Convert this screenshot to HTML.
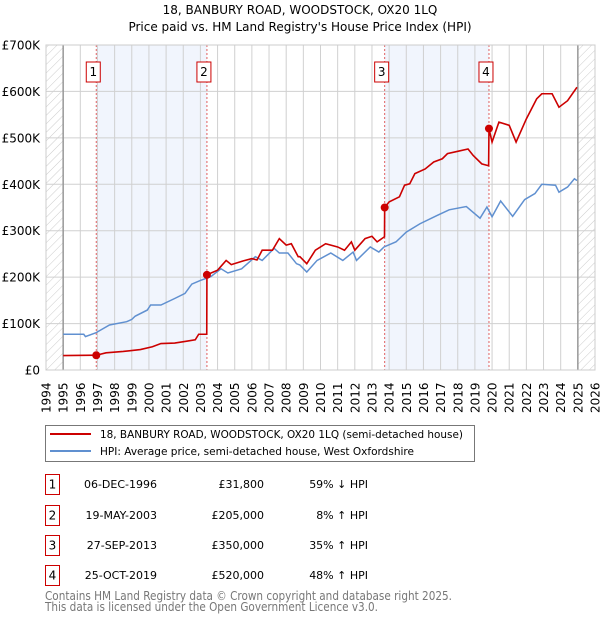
<!DOCTYPE html>
<html><head><meta charset="utf-8"><style>
body{margin:0;background:#fff;font-family:"DejaVu Sans","Liberation Sans",sans-serif;}
#c{position:absolute;left:0;top:0;width:600px;height:620px;font-family:"DejaVu Sans","Liberation Sans",sans-serif;}
</style></head><body>
<svg id="c" width="600" height="620" xmlns="http://www.w3.org/2000/svg">
<defs><pattern id="hatch" width="6" height="6" patternUnits="userSpaceOnUse" patternTransform="rotate(45)"><line x1="0" y1="0" x2="0" y2="6" stroke="#ccc" stroke-width="1"/></pattern></defs>
<g id="g"></g>
</svg>
<script>
const years=[];for(let y=1994;y<=2026;y++)years.push(y);
const yTicks=[0,100000,200000,300000,400000,500000,600000,700000];
const yTickLabels=['£0','£100K','£200K','£300K','£400K','£500K','£600K','£700K'];
const hpiYears=[1995.0,1996.2,1996.3,1996.9,1997.7,1998.7,1999.0,1999.2,1999.9,2000.1,2000.7,2001.5,2002.1,2002.5,2003.0,2003.6,2004.2,2004.6,2005.4,2006.2,2006.6,2007.3,2007.6,2008.1,2008.6,2008.8,2009.2,2009.8,2010.6,2011.3,2011.9,2012.1,2012.9,2013.4,2013.7,2014.4,2015.0,2015.8,2016.8,2017.5,2018.5,2019.3,2019.7,2020.0,2020.5,2021.2,2021.9,2022.5,2022.9,2023.7,2023.9,2024.4,2024.8,2024.95];
const hpiValues=[77,77,72,80,97,104,109,116,129,140,140,154,165,185,193,201,218,209,218,244,236,262,252,252,229,226,211,236,252,236,254,236,265,254,265,276,297,315,333,345,352,327,351,330,364,331,367,380,400,398,383,394,412,408];
const ppYears=[1995.0,1996.93,1997.5,1998.5,1999.5,2000.2,2000.7,2001.5,2002.2,2002.7,2002.9,2003.37,2003.38,2003.5,2004.0,2004.5,2004.8,2005.5,2006.0,2006.3,2006.6,2007.2,2007.6,2008.0,2008.3,2008.7,2008.8,2009.2,2009.7,2010.3,2011.0,2011.4,2011.8,2012.0,2012.6,2013.0,2013.3,2013.73,2013.74,2014.0,2014.6,2014.9,2015.2,2015.5,2016.1,2016.6,2017.1,2017.4,2018.0,2018.6,2018.9,2019.4,2019.8,2019.82,2020.0,2020.4,2021.0,2021.4,2022.0,2022.6,2022.9,2023.5,2023.9,2024.4,2024.95];
const ppValues=[31,31.8,37,40,44,50,57,58,62,65,77,77,205,207,215,236,227,235,240,237,258,258,283,269,272,244,244,229,258,272,265,258,276,258,283,288,276,287,350,362,373,398,401,423,433,448,455,466,471,476,462,444,440,520,491,534,527,491,541,584,595,595,566,580,609];
const saleYears=[1996.93,2003.38,2013.74,2019.82];
const saleValues=[31800,205000,350000,520000];
const saleLabels=['1','2','3','4'];
const X0=46,X1=595,Y0=370,Y1=45;
const xs=y=>X0+(y-1994)/(2026-1994)*(X1-X0);
const ys=v=>Y0-v/700000*(Y0-Y1);
const g=document.getElementById('g');const NS='http://www.w3.org/2000/svg';
function mk(t,a,txt){const e=document.createElementNS(NS,t);for(const k in a)e.setAttribute(k,a[k]);if(txt!=null)e.textContent=txt;g.appendChild(e);return e;}
let e;
e=mk('rect',{x:X0,y:Y1,width:X1-X0,height:Y0-Y1,fill:'#fff'});
for(let i=0;i<4;i+=2){e=mk('rect',{x:xs(saleYears[i]),y:Y1,width:xs(saleYears[i+1])-xs(saleYears[i]),height:Y0-Y1,fill:'#eef3fd',opacity:0.8});

}
e=mk('rect',{x:xs(1994),y:Y1,width:xs(1995)-xs(1994),height:Y0-Y1,fill:'url(#hatch)'});


e=mk('rect',{x:xs(2025),y:Y1,width:xs(2026)-xs(2025),height:Y0-Y1,fill:'url(#hatch)'});


years.forEach(y=>{e=mk('line',{x1:xs(y),x2:xs(y),y1:Y1,y2:Y0,stroke:'#d0d0d0','stroke-width':1});


e=mk('text',{x:0,y:0,transform:`translate(${xs(y)+4.5},${Y0+43}) rotate(-90)`,'font-size':12,fill:'#000'},String(y));

});
yTicks.forEach((v,i)=>{e=mk('line',{x1:X0,x2:X1,y1:ys(v),y2:ys(v),stroke:'#d0d0d0','stroke-width':1});


e=mk('text',{x:40,y:ys(v)+4.5,'text-anchor':'end','font-size':12,fill:'#000'},yTickLabels[i]);

});
e=mk('line',{x1:xs(1995),x2:xs(1995),y1:Y1,y2:Y0,stroke:'#999','stroke-width':1.5});


e=mk('line',{x1:xs(2025),x2:xs(2025),y1:Y1,y2:Y0,stroke:'#999','stroke-width':1.5});


saleYears.forEach((y,i)=>{e=mk('line',{x1:xs(y),x2:xs(y),y1:Y1,y2:Y0,stroke:'#e06060','stroke-width':1,'stroke-dasharray':'2,2'});


e=mk('rect',{x:xs(y)-10,y:62,width:14,height:20,fill:'#fff',stroke:'#c00','stroke-width':1});


e=mk('text',{x:xs(y)-3,y:76,'text-anchor':'middle','font-size':12},saleLabels[i]);

});
e=mk('polyline',{points:hpiYears.map((y,i)=>xs(y)+','+ys(hpiValues[i]*1000)).join(' '),fill:'none',stroke:'#6090d0','stroke-width':1.5});


e=mk('polyline',{points:ppYears.map((y,i)=>xs(y)+','+ys(ppValues[i]*1000)).join(' '),fill:'none',stroke:'#cc0000','stroke-width':1.6});


saleYears.forEach((y,i)=>{e=mk('circle',{cx:xs(y),cy:ys(saleValues[i]),r:4,fill:'#cc0000'});

});
e=mk('rect',{x:X0,y:Y1,width:X1-X0,height:Y0-Y1,fill:'none',stroke:'#ccc'});
e=mk('text',{x:300,y:14,'text-anchor':'middle','font-size':12},'18, BANBURY ROAD, WOODSTOCK, OX20 1LQ');


e=mk('text',{x:300,y:31,'text-anchor':'middle','font-size':12},"Price paid vs. HM Land Registry's House Price Index (HPI)");


e=mk('rect',{x:45.5,y:425.5,width:429,height:36,fill:'#fff',stroke:'#777'});


e=mk('line',{x1:50,x2:91,y1:434,y2:434,stroke:'#cc0000','stroke-width':2});
e=mk('text',{x:100,y:438,'font-size':11,textLength:363,lengthAdjust:'spacingAndGlyphs'},'18, BANBURY ROAD, WOODSTOCK, OX20 1LQ (semi-detached house)');


e=mk('line',{x1:50,x2:91,y1:451,y2:451,stroke:'#6090d0','stroke-width':2});
e=mk('text',{x:100,y:455,'font-size':11,textLength:314,lengthAdjust:'spacingAndGlyphs'},'HPI: Average price, semi-detached house, West Oxfordshire');


const tDates=['06-DEC-1996','19-MAY-2003','27-SEP-2013','25-OCT-2019'];
const tPrices=['£31,800','£205,000','£350,000','£520,000'];
const tHpi=['59% ↓ HPI','8% ↑ HPI','35% ↑ HPI','48% ↑ HPI'];
const rowY=[483,514,544,574];
rowY.forEach((y,i)=>{e=mk('rect',{x:45.5,y:y-8.5,width:14,height:20,fill:'#fff',stroke:'#c00'});


mk('text',{x:52.5,y:y+5.5,'text-anchor':'middle','font-size':12},saleLabels[i]);
e=mk('text',{x:157,y:y+5,'text-anchor':'end','font-size':11},tDates[i]);


e=mk('text',{x:264,y:y+5,'text-anchor':'end','font-size':11},tPrices[i]);


e=mk('text',{x:368,y:y+5,'text-anchor':'end','font-size':11},tHpi[i]);

});
e=mk('text',{x:45,y:600,'font-size':12,fill:'#777',textLength:407,lengthAdjust:'spacingAndGlyphs'},'Contains HM Land Registry data © Crown copyright and database right 2025.');


e=mk('text',{x:45,y:611,'font-size':12,fill:'#777',textLength:333,lengthAdjust:'spacingAndGlyphs'},'This data is licensed under the Open Government Licence v3.0.');


</script>
</body></html>
